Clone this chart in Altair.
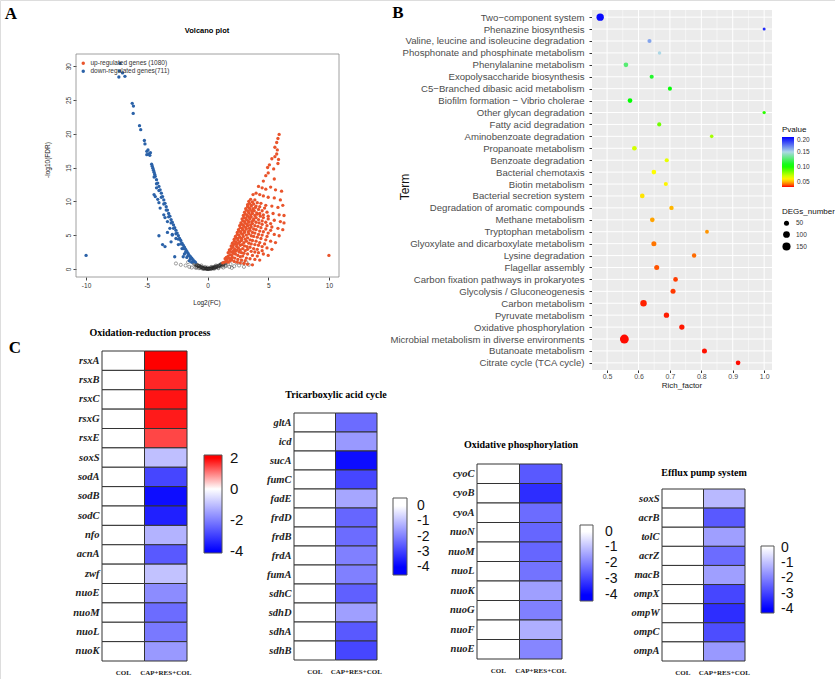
import altair as alt
import pandas as pd

W, H = 835, 679
SANS = "Liberation Sans"
SERIF = "Liberation Serif"

# ---------------- Panel A : volcano data ----------------
up_label = "up-regulated genes (1080)"
down_label = "down-regulated genes(711)"
up_x = [1.25, 1.4, 1.55, 1.7, 1.85, 2.0, 2.2, 2.45, 2.7, 3.0, 3.3, 3.7,
        1.55, 1.7, 1.85, 2.0, 2.15, 2.3, 2.5, 2.7, 2.9, 3.2, 3.5, 3.9, 4.3,
        1.8, 1.95, 2.1, 2.25, 2.4, 2.55, 2.7, 2.9, 3.1, 3.3, 3.6, 3.9, 4.2, 4.6, 5.0,
        2.05, 2.2, 2.35, 2.5, 2.65, 2.8, 3.0, 3.2, 3.4, 3.6, 3.9, 4.2, 4.5, 4.9, 5.3,
        2.3, 2.45, 2.6, 2.75, 2.9, 3.05, 3.2, 3.4, 3.6, 3.8, 4.1, 4.4, 4.8, 5.2, 5.6,
        2.55, 2.7, 2.85, 3.0, 3.15, 3.3, 3.45, 3.6, 3.8, 4.0, 4.3, 4.6, 5.0, 5.5, 5.9,
        2.75, 2.9, 3.05, 3.2, 3.35, 3.5, 3.65, 3.8, 4.0, 4.25, 4.5, 4.9, 5.3, 5.8, 6.2,
        2.95, 3.1, 3.25, 3.4, 3.55, 3.7, 3.9, 4.1, 4.35, 4.6, 5.0, 5.5, 6.0, 6.3,
        3.15, 3.3, 3.45, 3.6, 3.75, 3.95, 4.2, 4.5, 4.9, 5.4, 5.9, 6.3,
        3.4, 3.55, 3.7, 3.9, 4.1, 4.4, 4.8, 5.3, 5.8, 6.2,
        3.75, 4.0, 4.3, 4.6, 5.0, 5.5, 6.0,
        4.2, 4.5, 4.8, 5.2, 5.6, 6.1,
        4.6, 4.8, 5.0, 5.5,
        4.95, 5.1, 5.45, 5.8,
        5.3, 5.55, 5.7, 5.85,
        5.55, 5.7, 5.8, 5.9, 5.75,
        10.0,
        1.45, 1.6, 1.75, 1.9, 2.05, 2.25, 2.5, 2.8, 3.1,
        1.7, 1.85, 2.0, 2.15, 2.3, 2.45, 2.6, 2.8, 3.0, 3.3, 3.7, 4.1,
        1.95, 2.1, 2.25, 2.4, 2.55, 2.7, 2.85, 3.05, 3.25, 3.5, 3.8, 4.1, 4.5,
        2.2, 2.35, 2.5, 2.65, 2.8, 2.95, 3.1, 3.3, 3.5, 3.7, 4.0, 4.3, 4.7,
        2.45, 2.6, 2.75, 2.9, 3.05, 3.2, 3.35, 3.5, 3.7, 3.9, 4.2, 4.5, 4.9,
        2.65, 2.8, 2.95, 3.1, 3.25, 3.4, 3.55, 3.7, 3.9, 4.15, 4.4, 4.8, 5.2,
        2.85, 3.0, 3.15, 3.3, 3.45, 3.6, 3.8, 4.0, 4.2, 4.5, 4.8, 5.2,
        3.05, 3.2, 3.35, 3.5, 3.65, 3.85, 4.05, 4.3, 4.6, 5.0,
        3.3, 3.45, 3.6, 3.8, 4.0, 4.3, 4.7]
up_y = [0.9, 1.0, 1.1, 1.0, 1.2, 1.3, 1.1, 1.0, 0.9, 0.8, 0.7, 0.6,
        1.7, 1.9, 2.1, 2.0, 2.3, 2.2, 2.0, 1.8, 1.9, 1.6, 1.5, 1.4, 1.3,
        2.8, 3.0, 3.2, 2.9, 3.3, 3.1, 2.8, 3.0, 2.7, 2.9, 2.6, 2.5, 2.4, 2.2, 2.0,
        3.8, 4.1, 4.0, 4.3, 4.0, 4.2, 3.9, 4.1, 3.8, 3.7, 3.6, 3.5, 3.3, 3.1, 2.9,
        4.8, 5.1, 5.0, 5.3, 5.1, 5.4, 5.0, 5.2, 4.9, 4.8, 4.7, 4.5, 4.3, 4.1, 3.9,
        5.8, 6.1, 6.0, 6.3, 6.1, 6.4, 6.0, 6.2, 5.9, 5.8, 5.6, 5.5, 5.3, 5.1, 4.9,
        6.8, 7.1, 7.0, 7.3, 7.1, 7.4, 7.0, 7.2, 6.9, 6.8, 6.6, 6.4, 6.2, 6.0, 5.8,
        7.9, 8.1, 8.0, 8.3, 8.0, 8.2, 7.9, 8.1, 7.8, 7.6, 7.4, 7.2, 7.0, 6.8,
        8.9, 9.2, 9.0, 9.3, 8.9, 9.1, 8.8, 8.6, 8.4, 8.2, 8.0, 7.9,
        10.0, 10.3, 9.9, 10.2, 9.8, 9.7, 9.4, 9.3, 9.1, 9.4,
        11.0, 11.2, 11.0, 10.8, 10.6, 10.5, 10.2,
        12.2, 12.0, 11.8, 12.1, 11.7, 11.5,
        13.0, 13.8, 14.2, 13.3,
        15.0, 15.4, 14.8, 15.6,
        16.3, 16.6, 17.0, 16.2,
        18.0, 18.7, 19.3, 19.9, 17.6,
        2.0,
        1.5, 1.4, 1.6, 1.5, 1.7, 1.6, 1.4, 1.3, 1.2,
        2.4, 2.6, 2.5, 2.7, 2.6, 2.8, 2.5, 2.4, 2.3, 2.2, 2.0, 1.9,
        3.4, 3.5, 3.7, 3.6, 3.8, 3.5, 3.6, 3.4, 3.3, 3.2, 3.0, 2.9, 2.7,
        4.4, 4.6, 4.5, 4.7, 4.5, 4.8, 4.4, 4.6, 4.3, 4.2, 4.1, 3.9, 3.7,
        5.4, 5.6, 5.5, 5.8, 5.6, 5.9, 5.5, 5.7, 5.4, 5.3, 5.1, 5.0, 4.8,
        6.4, 6.6, 6.5, 6.8, 6.6, 6.9, 6.5, 6.7, 6.4, 6.3, 6.1, 5.9, 5.7,
        7.4, 7.6, 7.5, 7.8, 7.6, 7.7, 7.4, 7.6, 7.3, 7.1, 6.9, 6.7,
        8.4, 8.7, 8.5, 8.8, 8.5, 8.6, 8.3, 8.2, 8.0, 7.8,
        9.5, 9.7, 9.4, 9.6, 9.3, 9.2, 9.0]
down_x = [-10.0, -7.2, -7.25, -7.3, -6.8, -7.0,
          -6.2, -6.1, -6.12, -5.6, -5.5, -5.2, -5.15, -5.0, -4.9, -4.85, -5.0, -4.75, -4.7,
          -4.6, -4.55, -4.5, -4.45, -4.4, -4.35, -4.3, -4.2, -4.1, -4.0, -3.9, -3.8, -3.7,
          -3.6, -3.5, -3.4, -3.3, -3.2, -3.1, -3.0, -2.9, -2.8, -2.7, -2.6, -2.5, -2.4,
          -2.3, -2.2, -2.1, -2.0, -1.9, -1.8, -1.7, -1.6, -1.5, -1.4, -1.3, -1.2, -1.1, -1.0,
          -4.4, -4.2, -4.0, -3.8, -3.6, -3.4, -3.2, -3.0, -2.8, -2.6, -2.4, -2.2, -2.0,
          -1.8, -1.6, -1.4, -1.2,
          -4.4, -4.3, -4.0, -4.2, -3.6, -3.5, -3.3, -3.1, -2.9, -4.0, -3.7, -3.5, -2.9,
          -2.6, -2.7, -2.1, -2.0, -1.7, -1.5, -3.3, -3.9, -4.1, -3.0, -2.4, -1.9, -1.3]
down_y = [2.0, 30.4, 29.3, 28.4, 28.5, 29.0,
          24.5, 24.1, 23.0, 21.2, 20.6, 19.0, 18.5, 17.4, 17.6, 17.0, 16.9, 16.8, 17.2,
          15.5, 15.2, 14.9, 14.6, 14.3, 14.0, 13.7, 13.2, 12.7, 12.2, 11.7, 11.2, 10.7,
          10.2, 9.7, 9.2, 8.7, 8.2, 7.8, 7.3, 6.9, 6.5, 6.1, 5.7, 5.3, 4.9,
          4.5, 4.2, 3.8, 3.5, 3.2, 2.9, 2.6, 2.3, 2.0, 1.8, 1.6, 1.35, 1.15, 1.0,
          13.6, 12.6, 11.6, 10.6, 9.6, 8.7, 7.7, 6.8, 6.0, 5.2, 4.4, 3.7, 3.0,
          2.5, 2.0, 1.5, 1.1,
          11.0, 10.7, 9.8, 12.0, 8.0, 7.6, 7.0, 6.0, 5.1, 4.9, 3.6, 3.3, 5.0,
          4.5, 1.8, 3.0, 1.8, 1.7, 1.2, 5.4, 9.0, 10.3, 4.0, 3.6, 2.2, 1.0]
ns_x = [-1.2, -1.05, -0.9, -0.8, -0.7, -0.6, -0.5, -0.4, -0.3, -0.2, -0.1, 0.0, 0.1, 0.2,
        0.3, 0.4, 0.5, 0.6, 0.7, 0.8, 0.9, 1.0, 1.1, 1.2, 1.3, 1.45, 1.6,
        -1.5, -1.8, -1.3, -1.0, -0.7, -0.4, 0.1, 0.5, 0.9, 1.3, 1.8, 2.2, 2.6, 3.0, 3.4, 2.0,
        -2.2, -0.5, 0.3, 0.7, -0.2, 1.1, -1.6, 1.5, 0.0, -0.1, 0.6, 2.8, 3.2, -2.6, -0.9, 0.4,
        -1.1, -0.95, -0.85, -0.75, -0.65, -0.55, -0.45, -0.35, -0.25, -0.15, -0.05, 0.05, 0.15,
        0.25, 0.35, 0.45, 0.55, 0.65, 0.75, 0.85, 0.95, 1.05, 1.15, 1.25, 1.35, 1.5,
        -0.9, -0.6, -0.3, 0.0, 0.3, 0.6, 0.9, 1.2, 1.5, 1.9, 2.4]
ns_y = [0.95, 0.8, 0.65, 0.55, 0.45, 0.35, 0.28, 0.2, 0.12, 0.08, 0.04, 0.02, 0.03, 0.06,
        0.1, 0.14, 0.2, 0.26, 0.33, 0.4, 0.48, 0.56, 0.65, 0.75, 0.85, 0.95, 1.05,
        0.3, 0.5, 0.2, 0.2, 0.1, 0.0, 0.0, 0.02, 0.1, 0.2, 0.3, 0.4, 0.5, 0.3, 0.6, 0.15,
        0.6, 0.5, 0.3, 0.5, 0.3, 0.7, 1.0, 0.4, 0.2, 0.1, 0.35, 0.9, 1.0, 0.8, 0.15, 0.25,
        0.7, 0.6, 0.5, 0.42, 0.33, 0.25, 0.18, 0.12, 0.07, 0.03, 0.01, 0.0, 0.02,
        0.05, 0.08, 0.12, 0.17, 0.22, 0.28, 0.34, 0.41, 0.48, 0.56, 0.62, 0.7, 0.8,
        0.35, 0.15, 0.02, 0.0, 0.0, 0.08, 0.2, 0.35, 0.55, 0.7, 0.9]
vol_xticks = [-10, -5, 0, 5, 10]
vol_yticks = [0, 5, 10, 15, 20, 25, 30]

# ---------------- Panel B : KEGG enrichment ----------------
M = "\u2212"
terms = ["Two" + M + "component system", "Phenazine biosynthesis",
         "Valine, leucine and isoleucine degradation", "Phosphonate and phosphinate metabolism",
         "Phenylalanine metabolism", "Exopolysaccharide biosynthesis",
         "C5" + M + "Branched dibasic acid metabolism", "Biofilm formation " + M + " Vibrio cholerae",
         "Other glycan degradation", "Fatty acid degradation", "Aminobenzoate degradation",
         "Propanoate metabolism", "Benzoate degradation", "Bacterial chemotaxis",
         "Biotin metabolism", "Bacterial secretion system", "Degradation of aromatic compounds",
         "Methane metabolism", "Tryptophan metabolism", "Glyoxylate and dicarboxylate metabolism",
         "Lysine degradation", "Flagellar assembly", "Carbon fixation pathways in prokaryotes",
         "Glycolysis / Gluconeogenesis", "Carbon metabolism", "Pyruvate metabolism",
         "Oxidative phosphorylation", "Microbial metabolism in diverse environments",
         "Butanoate metabolism", "Citrate cycle (TCA cycle)"]
rich_factor = [0.478, 1.0, 0.635, 0.667, 0.56, 0.642, 0.70, 0.573, 1.0, 0.666, 0.833, 0.587,
               0.69, 0.649, 0.687, 0.612, 0.705, 0.644, 0.818, 0.649, 0.777, 0.658, 0.718,
               0.71, 0.616, 0.689, 0.738, 0.555, 0.81, 0.917]
pvalue = [0.198, 0.19, 0.162, 0.15, 0.127, 0.113, 0.106, 0.104, 0.097, 0.0855, 0.077, 0.069,
          0.066, 0.062, 0.0606, 0.0577, 0.0505, 0.0476, 0.0454, 0.0422, 0.0414, 0.0396,
          0.0378, 0.0374, 0.0356, 0.0352, 0.0348, 0.0339, 0.0343, 0.0339]
degs_number = [121, 10, 30, 19, 42, 30, 30, 42, 14, 30, 19, 42, 30, 42, 30, 42, 36, 42, 24,
               50, 36, 50, 42, 50, 91, 57, 57, 181, 50, 42]
rich_ticks = [0.5, 0.6, 0.7, 0.8, 0.9, 1.0]
rich_minor = [0.55, 0.65, 0.75, 0.85, 0.95]
p_stops = [0.033, 0.044, 0.062, 0.104, 0.15, 0.2]
p_colors = ["#FF0000", "#FF8C00", "#FFFF00", "#00FF00", "#ADD8E6", "#0000FF"]
p_legend_values = [0.05, 0.1, 0.15, 0.2]
degs_legend_values = [50, 100, 150]

# ---------------- Panel C : heatmaps ----------------
groups = ["COL", "CAP+RES+COL"]
ox_genes = ["rsxA", "rsxB", "rsxC", "rsxG", "rsxE", "soxS", "sodA", "sodB", "sodC", "nfo",
            "acnA", "zwf", "nuoE", "nuoM", "nuoL", "nuoK"]
ox_vals = [2.0, 1.7, 1.85, 1.8, 1.45, -1.0, -2.9, -3.8, -3.5, -1.2, -2.6, -0.95, -1.8, -2.3,
           -2.1, -1.6]
tca_genes = ["gltA", "icd", "sucA", "fumC", "fadE", "frdD", "frdB", "frdA", "fumA", "sdhC",
             "sdhD", "sdhA", "sdhB"]
tca_vals = [-2.3, -1.6, -3.8, -2.9, -1.4, -2.4, -2.3, -2.0, -2.0, -2.5, -1.5, -2.6, -2.9]
oxp_genes = ["cyoC", "cyoB", "cyoA", "nuoN", "nuoM", "nuoL", "nuoK", "nuoG", "nuoF", "nuoE"]
oxp_vals = [-2.6, -3.3, -2.3, -2.4, -2.4, -2.2, -1.5, -2.0, -1.25, -1.9]
eff_genes = ["soxS", "acrB", "tolC", "acrZ", "macB", "ompX", "ompW", "ompC", "ompA"]
eff_vals = [-1.1, -2.6, -1.5, -2.3, -1.5, -2.9, -3.3, -2.8, -1.6]
blue_ticks = [0, -1, -2, -3, -4]
div_ticks = [2, 0, -2, -4]

# ---------------- layout (pixels) ----------------
A_L, A_R, A_T, A_B = 76, 339, 54, 277
B_L, B_R, B_T, B_B = 592, 772, 10, 370
HYPHEN = "replace(datum.label, '\u2212', '-')"

one = pd.DataFrame({"k": [0]})


def text(t, x, y, size, font=SANS, weight="normal", style="normal", angle=0, color="#000"):
    return alt.Chart(one).mark_text(
        text=t, fontSize=size, font=font, fontWeight=weight, fontStyle=style, angle=angle,
        color=color, align="center", baseline="middle"
    ).encode(x=alt.value(x), y=alt.value(y))


# ---------------- Panel A chart ----------------
vx = alt.Scale(domain=[-10.83, 10.83], range=[A_L, A_R], nice=False, zero=False)
vy = alt.Scale(domain=[-1.2, 31.8], range=[A_B, A_T], nice=False, zero=False)
vax = alt.Axis(orient="bottom", offset=A_B - H, values=vol_xticks, title=None, grid=False,
               domain=False, tickSize=3, tickColor="#444", labelFontSize=6.5, labelColor="#333",
               labelFont=SANS, labelPadding=2, labelExpr=HYPHEN)
vay = alt.Axis(orient="left", offset=-A_L, values=vol_yticks, title=None, grid=False,
               domain=False, tickSize=3, tickColor="#444", labelFontSize=6.5, labelColor="#333",
               labelFont=SANS, labelAngle=270, labelAlign="center", labelBaseline="bottom",
               labelPadding=2)

vol_df = pd.concat([
    pd.DataFrame({"log2FC": up_x, "nlogFDR": up_y, "group": up_label}),
    pd.DataFrame({"log2FC": down_x, "nlogFDR": down_y, "group": down_label}),
])
ns_df = pd.DataFrame({"log2FC": ns_x, "nlogFDR": ns_y})

frame = alt.Chart(one).mark_rect(fillOpacity=0, stroke="#888", strokeWidth=0.8).encode(
    x=alt.value(A_L), x2=alt.value(A_R), y=alt.value(A_T), y2=alt.value(A_B))
ns_layer = alt.Chart(ns_df).mark_point(shape="circle", filled=False, color="#222", size=10,
                                       strokeWidth=0.6).encode(
    x=alt.X("log2FC:Q", scale=vx, axis=vax), y=alt.Y("nlogFDR:Q", scale=vy, axis=vay))
sig_layer = alt.Chart(vol_df).mark_circle(size=11, opacity=1).encode(
    x=alt.X("log2FC:Q", scale=vx, axis=vax),
    y=alt.Y("nlogFDR:Q", scale=vy, axis=vay),
    color=alt.Color("group:N", scale=alt.Scale(domain=[up_label, down_label],
                                               range=["#E9542B", "#2B62A8"]),
                    legend=alt.Legend(orient="none", legendX=80, legendY=60, title=None,
                                      symbolType="circle", symbolSize=12, symbolStrokeWidth=0,
                                      labelFontSize=6.5, labelFont=SANS, labelColor="#333",
                                      rowPadding=1, labelOffset=4, padding=0)))
volcano = alt.layer(frame, ns_layer, sig_layer)

# ---------------- Panel B chart ----------------
bx = alt.Scale(domain=[0.452, 1.025], range=[B_L, B_R], nice=False, zero=False)
by = alt.Scale(type="point", domain=terms, range=[B_T, B_B], padding=0.6)
bax = alt.Axis(orient="bottom", offset=B_B - H, values=rich_ticks, format=".1f", title=None,
               grid=False, domain=False, tickSize=2.5, tickColor="#333", labelFontSize=7,
               labelColor="#4D4D4D", labelFont=SANS, labelPadding=0)
bay = alt.Axis(orient="left", offset=-B_L, title=None, grid=False, domain=False, tickSize=3,
               tickColor="#333", labelFontSize=9.6, labelColor="#4D4D4D", labelFont=SANS,
               labelPadding=5, labelLimit=400)

bg = alt.Chart(one).mark_rect(color="#EBEBEB").encode(
    x=alt.value(B_L), x2=alt.value(B_R), y=alt.value(B_T), y2=alt.value(B_B))
minor = alt.Chart(pd.DataFrame({"v": rich_minor})).mark_rule(color="white", strokeWidth=0.5).encode(
    x=alt.X("v:Q", scale=bx, axis=bax), y=alt.value(B_T), y2=alt.value(B_B))
major = alt.Chart(pd.DataFrame({"v": rich_ticks})).mark_rule(color="white", strokeWidth=1).encode(
    x=alt.X("v:Q", scale=bx, axis=bax), y=alt.value(B_T), y2=alt.value(B_B))
hgrid = alt.Chart(pd.DataFrame({"Term": terms})).mark_rule(color="white", strokeWidth=1).encode(
    y=alt.Y("Term:N", scale=by, axis=bay), x=alt.value(B_L), x2=alt.value(B_R))
b_df = pd.DataFrame({"Term": terms, "Rich_factor": rich_factor, "Pvalue": pvalue,
                     "DEGs_number": degs_number})
dots = alt.Chart(b_df).mark_circle(opacity=1).encode(
    x=alt.X("Rich_factor:Q", scale=bx, axis=bax),
    y=alt.Y("Term:N", scale=by, axis=bay),
    color=alt.Color("Pvalue:Q",
                    scale=alt.Scale(domain=p_stops, range=p_colors, interpolate="rgb"),
                    legend=alt.Legend(orient="none", legendX=782, legendY=126, title="Pvalue",
                                      titleFontSize=8, titleFontWeight="normal", titleFont=SANS,
                                      titleColor="#111", titlePadding=3, gradientLength=50,
                                      gradientThickness=12, gradientStrokeWidth=0,
                                      labelFontSize=6.5, labelFont=SANS, labelColor="#333",
                                      labelOffset=3, values=p_legend_values, format=".2f",
                                      labelOverlap=False)),
    size=alt.Size("DEGs_number:Q", scale=alt.Scale(domain=[10, 185], range=[9, 80], zero=False),
                  legend=alt.Legend(orient="none", legendX=782, legendY=208,
                                    title="DEGs_number", titleFontSize=8,
                                    titleFontWeight="normal", titleFont=SANS, titleColor="#111",
                                    titlePadding=4, values=degs_legend_values,
                                    symbolType="circle", symbolFillColor="black",
                                    symbolStrokeWidth=0, labelFontSize=6.5, labelFont=SANS,
                                    labelColor="#333", rowPadding=4, labelOffset=5)))
dotplot = alt.layer(bg, minor, major, hgrid, dots)


# ---------------- Panel C charts ----------------
def heat(genes, vals, xl, xr, yt, yb, cscale, lx, ly, glen, gth, lvals, loff, lsize):
    rows = [(g, groups[0], 0.0) for g in genes] + [(g, groups[1], v) for g, v in zip(genes, vals)]
    df = pd.DataFrame(rows, columns=["gene", "group", "value"])
    hx = alt.Scale(type="band", domain=groups, range=[xl, xr], paddingInner=0, paddingOuter=0)
    hy = alt.Scale(type="band", domain=genes, range=[yt, yb], paddingInner=0, paddingOuter=0)
    return alt.Chart(df).mark_rect(stroke="#333", strokeWidth=1).encode(
        x=alt.X("group:N", scale=hx,
                axis=alt.Axis(orient="bottom", offset=yb - H, title=None, ticks=False,
                              domain=False, labelAngle=0, labelFont=SERIF,
                              labelFontWeight="bold", labelFontSize=7, labelColor="#222",
                              labelPadding=7)),
        y=alt.Y("gene:N", scale=hy,
                axis=alt.Axis(orient="left", offset=-xl, title=None, ticks=False, domain=False,
                              labelFont=SERIF, labelFontStyle="italic", labelFontWeight="bold",
                              labelFontSize=10.5, labelColor="#222", labelPadding=3)),
        color=alt.Color("value:Q", scale=cscale,
                        legend=alt.Legend(orient="none", legendX=lx, legendY=ly, title=None,
                                          direction="vertical", gradientLength=glen,
                                          gradientThickness=gth, gradientStrokeColor="#555",
                                          gradientStrokeWidth=1, labelFont=SANS,
                                          labelFontSize=lsize, labelColor="#111",
                                          labelOffset=loff, values=lvals, labelOverlap=False,
                                          labelExpr=HYPHEN)))


BLUE, WHITE, RED = "#0000FF", "#FFFFFF", "#FF0000"


def div_scale(lo, hi):
    # colour bar slightly wider than the -4..2 colour range, as in the reference
    return alt.Scale(domain=[lo, -4, 0, 2, hi], range=[BLUE, BLUE, WHITE, RED, RED],
                     interpolate="rgb")


def blue_scale(lo, hi):
    return alt.Scale(domain=[lo, -4, 0, hi], range=[BLUE, BLUE, WHITE, WHITE],
                     interpolate="rgb")


h1 = heat(ox_genes, ox_vals, 102, 187, 351, 661, div_scale(-4.13, 2.19), 204, 455, 98, 18,
          div_ticks, 8, 15)
h2 = heat(tca_genes, tca_vals, 294, 377, 413, 660, blue_scale(-4.52, 0.52), 393, 498, 77, 14,
          blue_ticks, 10, 14)
h3 = heat(oxp_genes, oxp_vals, 477, 562, 464, 659, blue_scale(-4.38, 0.42), 580, 525, 76, 13,
          blue_ticks, 12, 14)
h4 = heat(eff_genes, eff_vals, 662, 745, 489, 661, blue_scale(-4.25, 0.1), 761, 546, 67, 13,
          blue_ticks, 7, 14)

texts = [
    text("A", 11, 14, 17, font=SERIF, weight="bold"),
    text("B", 398, 13, 17, font=SERIF, weight="bold"),
    text("C", 15, 348, 17, font=SERIF, weight="bold"),
    text("Volcano plot", 207, 31, 7.5, weight="bold"),
    text("-log10(FDR)", 48, 160, 6.5, angle=270, color="#222"),
    text("Log2(FC)", 207, 303, 6.5, color="#222"),
    text("Term", 405, 187, 12, angle=270, color="#111"),
    text("Rich_factor", 682, 386, 8, color="#222"),
    text("Oxidation-reduction process", 150, 333, 10, font=SERIF, weight="bold"),
    text("Tricarboxylic acid cycle", 336, 395, 10, font=SERIF, weight="bold"),
    text("Oxidative phosphorylation", 521, 445, 10, font=SERIF, weight="bold"),
    text("Efflux pump system", 704, 473, 10, font=SERIF, weight="bold"),
]

chart = alt.layer(volcano, dotplot, h1, h2, h3, h4, *texts).resolve_scale(
    x="independent", y="independent", color="independent", size="independent"
).properties(
    width=W, height=H, padding=0, autosize=alt.AutoSizeParams(type="none")
).configure_view(stroke=None).configure(background="white")

chart.save("out.html", embed_options={"renderer": "svg", "actions": False})
